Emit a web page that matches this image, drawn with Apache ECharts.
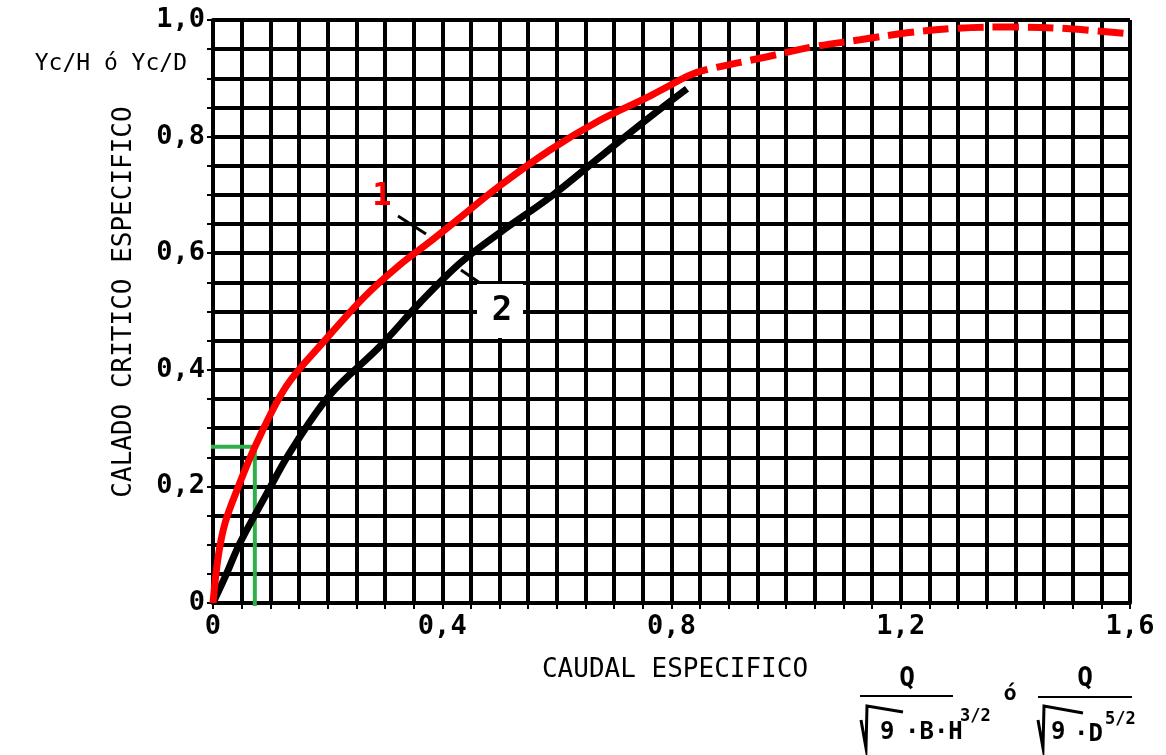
<!DOCTYPE html>
<html>
<head>
<meta charset="utf-8">
<script src="https://cdn.jsdelivr.net/npm/echarts@6/dist/echarts.min.js"></script>
<style>
  html, body { margin: 0; padding: 0; background: #fff; }
  #chart { width: 1166px; height: 755px; }
</style>
</head>
<body>
<div id="chart"></div>
<script>
// curva 1 (roja): tramo continuo y tramo discontinuo
const curve1Solid = [
    [0, 0], [0.009, 0.079], [0.021, 0.137], [0.042, 0.194], [0.075, 0.272],
    [0.128, 0.372], [0.192, 0.447], [0.265, 0.526], [0.326, 0.580], [0.379, 0.620],
    [0.426, 0.657], [0.501, 0.716], [0.588, 0.777], [0.675, 0.828], [0.763, 0.870],
    [0.82, 0.900]
];
const curve1Dashed = [
    [0.82, 0.900], [0.85, 0.912], [0.967, 0.937], [1.047, 0.954], [1.129, 0.966],
    [1.211, 0.978], [1.30, 0.986], [1.39, 0.988], [1.494, 0.985], [1.6, 0.976]
];
// curva 2 (negra)
const curve2 = [
    [0, 0], [0.024, 0.051], [0.047, 0.103], [0.094, 0.188], [0.134, 0.258],
    [0.204, 0.357], [0.291, 0.440], [0.361, 0.515], [0.431, 0.583], [0.503, 0.637],
    [0.588, 0.696], [0.675, 0.765], [0.763, 0.834], [0.827, 0.882]
];
// ejemplo de lectura (verde)
const greenGuide = [[-0.01, 0.268], [0.073, 0.268], [0.073, -0.005]];

const xTickLabels = ['0', '0,4', '0,8', '1,2', '1,6'];
const yTickLabels = ['0', '0,2', '0,4', '0,6', '0,8', '1,0'];

const chart = echarts.init(document.getElementById('chart'));

const MONO = "'DejaVu Sans Mono', monospace";
const labelStyle = { fontFamily: MONO, fontWeight: 'bold', fontSize: 27, color: '#000' };

function fmtTick(labels, step) {
    return v => {
        const k = Math.round(v * 100);
        if (k % Math.round(step * 100) !== 0) return '';
        return labels[k / Math.round(step * 100)] || '';
    };
}

const option = {
    backgroundColor: '#fff',
    animation: false,
    grid: { left: 213, top: 20, width: 917, height: 583 },
    xAxis: {
        type: 'value', min: 0, max: 1.6, interval: 0.05,
        axisLine: { show: true, lineStyle: { color: '#000', width: 4 } },
        axisTick: { show: true, length: 6, lineStyle: { color: '#000', width: 2 } },
        axisLabel: Object.assign({ margin: 10, showMinLabel: true, showMaxLabel: true,
            formatter: fmtTick(xTickLabels, 0.4) }, labelStyle),
        splitLine: { show: true, lineStyle: { color: '#000', width: 4 } }
    },
    yAxis: {
        type: 'value', min: 0, max: 1.0, interval: 0.05,
        axisLine: { show: true, lineStyle: { color: '#000', width: 4 } },
        axisTick: { show: true, length: 6, lineStyle: { color: '#000', width: 2 } },
        axisLabel: Object.assign({ margin: 8, formatter: fmtTick(yTickLabels, 0.2) }, labelStyle),
        splitLine: { show: true, lineStyle: { color: '#000', width: 4 } }
    },
    series: [
        {
            type: 'line', data: greenGuide, showSymbol: false, clip: false, z: 3,
            lineStyle: { color: '#2fae4a', width: 4 }
        },
        {
            type: 'line', data: curve2, smooth: 0.35, showSymbol: false, z: 4,
            lineStyle: { color: '#000', width: 7 }
        },
        {
            type: 'line', data: curve1Solid, smooth: 0.35, showSymbol: false, z: 5,
            lineStyle: { color: '#ff0000', width: 7 }
        },
        {
            type: 'line', data: curve1Dashed, smooth: 0.35, showSymbol: false, z: 5,
            lineStyle: { color: '#ff0000', width: 7, type: [26, 9] }
        }
    ],
    graphic: [
        // titulos de ejes
        { type: 'text', x: 187, y: 64, style: { text: 'Yc/H ó Yc/D', font: '23px ' + MONO,
            fill: '#000', align: 'right', verticalAlign: 'middle' } },
        { type: 'text', x: 124, y: 302, rotation: Math.PI / 2,
            style: { text: 'CALADO CRITICO ESPECIFICO', font: '26px ' + MONO, fill: '#000',
                align: 'center', verticalAlign: 'middle' } },
        { type: 'text', x: 675, y: 670, style: { text: 'CAUDAL ESPECIFICO', font: '26px ' + MONO,
            fill: '#000', align: 'center', verticalAlign: 'middle' } },
        // etiquetas de curvas
        { type: 'text', x: 382, y: 197, z: 20, style: { text: '1', font: 'bold 32px ' + MONO,
            fill: '#ff0000', align: 'center', verticalAlign: 'middle' } },
        { type: 'line', z: 20, shape: { x1: 398, y1: 216, x2: 426, y2: 234 },
            style: { stroke: '#000', lineWidth: 3 } },
        { type: 'rect', z: 19, shape: { x: 477, y: 284, width: 46, height: 54 },
            style: { fill: '#fff' } },
        { type: 'text', x: 502, y: 311, z: 20, style: { text: '2', font: 'bold 34px ' + MONO,
            fill: '#000', align: 'center', verticalAlign: 'middle' } },
        { type: 'line', z: 20, shape: { x1: 480, y1: 283, x2: 461, y2: 270 },
            style: { stroke: '#000', lineWidth: 3 } },
        // formula Q / (sqrt(g) B H^3/2)  o  Q / (sqrt(g) D^5/2)
        { type: 'text', x: 907, y: 679, style: { text: 'Q', font: 'bold 26px ' + MONO,
            fill: '#000', align: 'center', verticalAlign: 'middle' } },
        { type: 'line', shape: { x1: 860, y1: 696, x2: 953, y2: 696 },
            style: { stroke: '#000', lineWidth: 2 } },
        { type: 'polyline', shape: { points: [[861, 720], [866, 748], [867, 706], [903, 712]] },
            style: { stroke: '#000', lineWidth: 3, fill: null } },
        { type: 'text', x: 880, y: 733, style: { text: '9', font: 'bold 24px ' + MONO,
            fill: '#000', align: 'left', verticalAlign: 'middle' } },
        { type: 'text', x: 905, y: 733, style: { text: '·B·H', font: 'bold 24px ' + MONO,
            fill: '#000', align: 'left', verticalAlign: 'middle' } },
        { type: 'text', x: 960, y: 717, style: { text: '3/2', font: 'bold 17px ' + MONO,
            fill: '#000', align: 'left', verticalAlign: 'middle' } },
        { type: 'text', x: 1010, y: 694, style: { text: 'ó', font: 'bold 22px ' + MONO,
            fill: '#000', align: 'center', verticalAlign: 'middle' } },
        { type: 'text', x: 1085, y: 679, style: { text: 'Q', font: 'bold 26px ' + MONO,
            fill: '#000', align: 'center', verticalAlign: 'middle' } },
        { type: 'line', shape: { x1: 1038, y1: 697, x2: 1132, y2: 697 },
            style: { stroke: '#000', lineWidth: 2 } },
        { type: 'polyline', shape: { points: [[1038, 720], [1043, 748], [1044, 706], [1083, 713]] },
            style: { stroke: '#000', lineWidth: 3, fill: null } },
        { type: 'text', x: 1051, y: 733, style: { text: '9', font: 'bold 24px ' + MONO,
            fill: '#000', align: 'left', verticalAlign: 'middle' } },
        { type: 'text', x: 1074, y: 735, style: { text: '·D', font: 'bold 24px ' + MONO,
            fill: '#000', align: 'left', verticalAlign: 'middle' } },
        { type: 'text', x: 1105, y: 720, style: { text: '5/2', font: 'bold 17px ' + MONO,
            fill: '#000', align: 'left', verticalAlign: 'middle' } }
    ]
};

chart.setOption(option);
</script>
</body>
</html>
